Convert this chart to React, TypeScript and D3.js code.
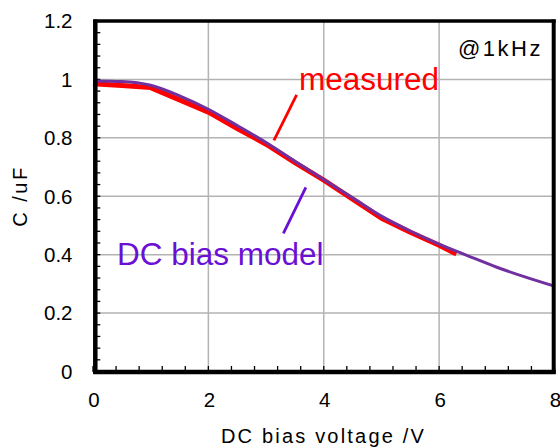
import React from "react";
import * as d3 from "d3";

// ---- data ----
const measuredV = [0, 0.5, 1, 1.5, 2, 2.5, 3, 3.5, 4, 4.5, 5, 5.5, 6, 6.3];
const measuredC = [0.985, 0.979, 0.972, 0.93, 0.888, 0.832, 0.778, 0.715, 0.655, 0.59, 0.525, 0.477, 0.432, 0.402];
const modelV = [0, 0.5, 1, 1.5, 2, 2.5, 3, 3.5, 4, 4.5, 5, 5.5, 6, 6.5, 7, 7.5, 8];
const modelC = [0.995, 0.993, 0.98, 0.944, 0.898, 0.842, 0.784, 0.72, 0.657, 0.595, 0.532, 0.481, 0.436, 0.396, 0.357, 0.323, 0.292];
const xTicks = [0, 2, 4, 6, 8];
const yTicks = [0, 0.2, 0.4, 0.6, 0.8, 1.0, 1.2];
const xTitle = "DC bias voltage /V";
const yTitle = "C /uF";
const freqLabel = "@1kHz";
const measuredLabel = "measured";
const modelLabel = "DC bias model";
// annotation anchors (data units)
const measuredLabelPos = [3.57, 0.963];
const modelLabelPos = [0.416, 0.3645];
const freqLabelPos = [7.8, 1.08];
const measuredPointer = [[3.53, 0.947], [3.137, 0.791]];
const modelPointer = [[3.69, 0.63], [3.3, 0.473]];

const W = 560;
const H = 447;
const FONT = "'Liberation Sans', Arial, sans-serif";
const RED = "#ff0000";
const PURPLE_LINE = "#7030a0";
const PURPLE_TEXT = "#6a0fd6";

export default function App() {
  const x = d3.scaleLinear().domain([0, 8]).range([93, 554.5]);
  const y = d3.scaleLinear().domain([0, 1.2]).range([371.5, 21]);

  const measured = measuredV.map((v, i) => [v, measuredC[i]] as [number, number]);
  const model = modelV.map((v, i) => [v, modelC[i]] as [number, number]);

  const lineLinear = d3
    .line<[number, number]>()
    .x((d) => x(d[0]))
    .y((d) => y(d[1]));
  const lineSmooth = d3
    .line<[number, number]>()
    .x((d) => x(d[0]))
    .y((d) => y(d[1]))
    .curve(d3.curveMonotoneX);

  const xMinor = d3.range(0, 8.0001, 0.4);
  const yMinor = d3.range(0, 1.2001, 0.04);
  const fmt = (d: number) => String(+d.toFixed(1));

  const x0 = x(0) + 2.3;
  const x8 = x(8) - 0.8;
  const y0 = y(0) + 0.5;
  const yTop = y(1.2);

  return (
    <svg
      width={W}
      height={H}
      style={{ position: "absolute", left: 0, top: 0, background: "#fff" }}
      fontFamily={FONT}
    >
      <rect x={0} y={0} width={W} height={H} fill="#fff" />
      {/* grid */}
      {xTicks.slice(1, -1).map((t) => (
        <line key={"gx" + t} x1={x(t)} x2={x(t)} y1={yTop} y2={y0} stroke="#b3b3b3" strokeWidth={1.5} />
      ))}
      {yTicks.slice(1, -1).map((t) => (
        <line key={"gy" + t} x1={x0} x2={x8} y1={y(t)} y2={y(t)} stroke="#b3b3b3" strokeWidth={1.5} />
      ))}
      {/* minor ticks */}
      {yMinor.map((t, i) => (
        <line key={"my" + i} x1={x0} x2={x0 + 5} y1={y(t)} y2={y(t)} stroke="#000" strokeWidth={1.3} />
      ))}
      {xMinor.map((t, i) => (
        <line key={"mx" + i} x1={x(t)} x2={x(t)} y1={y0} y2={y0 - 6} stroke="#000" strokeWidth={1.3} />
      ))}
      {/* series */}
      <path d={lineLinear(measured) || ""} fill="none" stroke={RED} strokeWidth={5} strokeLinejoin="round" />
      <path d={lineSmooth(model) || ""} fill="none" stroke={PURPLE_LINE} strokeWidth={3} strokeLinejoin="round" />
      {/* frame */}
      <line x1={x0 - 2} x2={x8 + 2} y1={yTop} y2={yTop} stroke="#000" strokeWidth={3.5} />
      <line x1={x8} x2={x8} y1={yTop - 1.5} y2={y0 + 2} stroke="#000" strokeWidth={4} />
      <line x1={x0} x2={x0} y1={yTop - 1.5} y2={y0 + 2} stroke="#000" strokeWidth={4.5} />
      <line x1={x0 - 2} x2={x8 + 2} y1={y0} y2={y0} stroke="#000" strokeWidth={4.5} />
      {/* tick labels */}
      {yTicks.map((t) => (
        <text key={"ly" + t} x={72.5} y={y(t)} dy="0.36em" textAnchor="end" fontSize={20.5} fill="#000">
          {fmt(t)}
        </text>
      ))}
      {xTicks.map((t) => (
        <text key={"lx" + t} x={x(t) + 1} y={407} textAnchor="middle" fontSize={20.5} fill="#000">
          {fmt(t)}
        </text>
      ))}
      {/* axis titles */}
      <text x={323.5} y={443} textAnchor="middle" fontSize={20} letterSpacing={2.2} fill="#000">
        {xTitle}
      </text>
      <text
        transform={`translate(27,196) rotate(-90)`}
        textAnchor="middle"
        fontSize={20}
        letterSpacing={2.5}
        fill="#000"
      >
        {yTitle}
      </text>
      {/* annotations */}
      <text x={x(freqLabelPos[0])} y={y(freqLabelPos[1])} textAnchor="end" fontSize={22} letterSpacing={2.5} fill="#000">
        {freqLabel}
      </text>
      <text x={x(measuredLabelPos[0])} y={y(measuredLabelPos[1])} fontSize={31.5} fill={RED}>
        {measuredLabel}
      </text>
      <line
        x1={x(measuredPointer[0][0])}
        y1={y(measuredPointer[0][1])}
        x2={x(measuredPointer[1][0])}
        y2={y(measuredPointer[1][1])}
        stroke={RED}
        strokeWidth={2.8}
      />
      <text x={x(modelLabelPos[0])} y={y(modelLabelPos[1])} fontSize={31.5} fill={PURPLE_TEXT}>
        {modelLabel}
      </text>
      <line
        x1={x(modelPointer[0][0])}
        y1={y(modelPointer[0][1])}
        x2={x(modelPointer[1][0])}
        y2={y(modelPointer[1][1])}
        stroke={PURPLE_TEXT}
        strokeWidth={2.8}
      />
    </svg>
  );
}
